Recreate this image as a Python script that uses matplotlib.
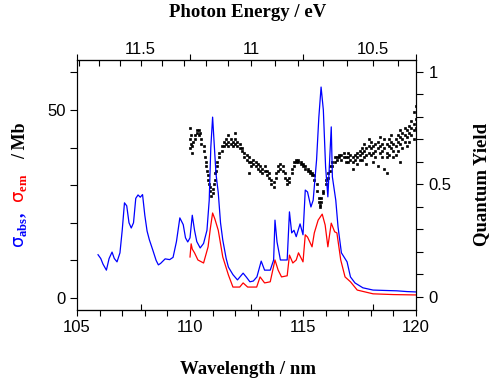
import numpy as np
import matplotlib
matplotlib.use("Agg")
import matplotlib.pyplot as plt
from matplotlib.ticker import MultipleLocator, FixedLocator, NullLocator, FormatStrFormatter

plt.rcParams["font.family"] = "Liberation Sans"
plt.rcParams["mathtext.fontset"] = "custom"
plt.rcParams["mathtext.rm"] = "Liberation Serif:bold"
plt.rcParams["mathtext.bf"] = "Liberation Serif:bold"
plt.rcParams["mathtext.it"] = "DejaVu Sans"

# absorption cross section (blue)
abs_wl = [105.93, 106.05, 106.15, 106.3, 106.42, 106.55, 106.65, 106.77, 106.9, 107.0,
          107.1, 107.2, 107.3, 107.4, 107.5, 107.6, 107.7, 107.8, 107.9, 108.0,
          108.1, 108.2, 108.35, 108.5, 108.6, 108.7, 108.9, 109.1, 109.25, 109.4,
          109.55, 109.7, 109.8, 109.9, 110.0, 110.1, 110.2, 110.3, 110.45, 110.6,
          110.75, 110.85, 110.92, 111.0, 111.08, 111.15, 111.25, 111.35, 111.45, 111.6,
          111.7, 111.9, 112.1, 112.35, 112.5, 112.65, 112.8, 112.96, 113.15, 113.3,
          113.55, 113.7, 113.76, 113.85, 114.0, 114.3, 114.4, 114.5, 114.6, 114.7,
          114.87, 115.0, 115.1, 115.2, 115.35, 115.45, 115.6, 115.7, 115.8, 115.9,
          116.0, 116.1, 116.25, 116.3, 116.45, 116.55, 116.7, 116.95, 117.1, 117.3,
          117.65, 118.1, 118.6, 119.15, 119.6, 120.0]
abs_sigma = [11.5, 10.5, 9.0, 7.4, 10.5, 12.2, 10.5, 9.6, 12.0, 18.0,
             25.3, 24.5, 20.0, 18.6, 20.0, 26.5, 27.4, 26.8, 27.5, 22.0,
             17.8, 15.5, 12.8, 10.0, 8.8, 9.2, 10.4, 10.2, 10.8, 15.0,
             21.3, 19.5, 16.0, 14.9, 16.0, 22.0, 18.0, 15.0, 13.3, 14.5,
             18.0, 26.0, 40.0, 48.1, 40.0, 33.0, 28.0, 20.0, 15.4, 10.5,
             8.2, 6.2, 4.8, 6.6, 5.5, 4.3, 4.5, 5.6, 9.8, 7.4,
             7.4, 10.1, 20.7, 14.9, 10.1, 10.1, 22.9, 17.3, 18.0, 16.3,
             19.7, 16.8, 28.7, 28.2, 24.2, 26.0, 36.7, 48.0, 56.1, 50.0,
             34.8, 26.9, 45.5, 32.2, 26.0, 18.9, 12.0, 9.6, 5.6, 4.0,
             2.7, 2.1, 2.0, 1.9, 1.7, 1.6]

# emission cross section (red)
em_wl = [110.0, 110.05, 110.1, 110.2, 110.35, 110.6, 110.8, 110.9, 111.0, 111.1,
         111.25, 111.45, 111.7, 111.9, 112.2, 112.35, 112.55, 112.95, 113.1, 113.3,
         113.55, 113.76, 113.9, 114.05, 114.3, 114.4, 114.55, 114.7, 114.8, 115.0,
         115.1, 115.2, 115.4, 115.5, 115.67, 115.85, 115.98, 116.1, 116.25, 116.4,
         116.5, 116.67, 116.86, 117.1, 117.4, 118.1, 119.0, 120.0]
em_sigma = [10.9, 14.4, 13.0, 12.0, 10.1, 9.3, 13.6, 18.5, 22.6, 21.0,
            18.0, 10.9, 6.1, 2.9, 2.9, 4.0, 2.9, 2.9, 5.6, 4.0,
            4.3, 10.1, 7.4, 5.6, 5.9, 11.4, 9.3, 10.1, 12.0, 9.6,
            16.8, 16.2, 13.6, 17.3, 20.7, 22.3, 19.4, 13.6, 19.9, 17.6,
            17.3, 10.1, 5.6, 4.3, 2.1, 1.1, 0.9, 0.8]

# quantum yield (black dots), read as (wavelength, yield) pairs
qy_wl = [110.0, 110.0, 110.0, 110.05, 110.05, 110.1, 110.1, 110.15, 110.2, 110.2,
         110.3, 110.3, 110.4, 110.4, 110.45, 110.5, 110.5, 110.6, 110.6, 110.65,
         110.7, 110.7, 110.75, 110.8, 110.8, 110.85, 110.9, 110.9, 110.95, 111.0,
         111.0, 111.05, 111.1, 111.1, 111.15, 111.2, 111.2, 111.3, 111.3, 111.4,
         111.4, 111.5, 111.5, 111.6, 111.6, 111.7, 111.7, 111.7, 111.8, 111.8,
         111.9, 111.9, 112.0, 112.0, 112.0, 112.1, 112.1, 112.2, 112.2, 112.3,
         112.3, 112.4, 112.4, 112.5, 112.5, 112.6, 112.6, 112.6, 112.7, 112.7,
         112.8, 112.8, 112.9, 112.9, 113.0, 113.0, 113.1, 113.1, 113.2, 113.2,
         113.3, 113.3, 113.4, 113.4, 113.5, 113.5, 113.6, 113.6, 113.7, 113.7,
         113.8, 113.8, 113.9, 113.9, 114.0, 114.0, 114.1, 114.1, 114.2, 114.2,
         114.3, 114.3, 114.4, 114.4, 114.5, 114.5, 114.6, 114.6, 114.7, 114.7,
         114.8, 114.8, 114.9, 114.9, 115.0, 115.0, 115.1, 115.1, 115.2, 115.2,
         115.3, 115.3, 115.4, 115.4, 115.5, 115.5, 115.6, 115.6, 115.7, 115.7,
         115.75, 115.75, 115.8, 115.8, 115.9, 115.9, 116.0, 116.0, 116.1, 116.1,
         116.2, 116.2, 116.3, 116.3, 116.4, 116.4, 116.5, 116.5, 116.6, 116.6,
         116.7, 116.7, 116.8, 116.8, 116.9, 116.9, 117.0, 117.0, 117.0, 117.1,
         117.1, 117.2, 117.2, 117.2, 117.3, 117.3, 117.4, 117.4, 117.4, 117.5,
         117.5, 117.5, 117.6, 117.6, 117.6, 117.7, 117.7, 117.7, 117.8, 117.8,
         117.8, 117.9, 117.9, 117.9, 118.0, 118.0, 118.0, 118.1, 118.1, 118.1,
         118.2, 118.2, 118.2, 118.3, 118.3, 118.3, 118.4, 118.4, 118.4, 118.5,
         118.5, 118.5, 118.6, 118.6, 118.6, 118.7, 118.7, 118.7, 118.7, 118.8,
         118.8, 118.8, 118.9, 118.9, 118.9, 119.0, 119.0, 119.0, 119.1, 119.1,
         119.1, 119.2, 119.2, 119.2, 119.3, 119.3, 119.3, 119.3, 119.4, 119.4,
         119.4, 119.5, 119.5, 119.5, 119.6, 119.6, 119.6, 119.7, 119.7, 119.7,
         119.8, 119.8, 119.8, 119.9, 119.9, 119.9, 119.9, 120.0, 120.0, 120.0]
qy = [0.75, 0.70, 0.66, 0.72, 0.68, 0.67, 0.64, 0.69, 0.70, 0.72,
      0.73, 0.74, 0.74, 0.72, 0.73, 0.70, 0.68, 0.65, 0.67, 0.62,
      0.60, 0.58, 0.56, 0.52, 0.54, 0.50, 0.47, 0.49, 0.45, 0.46,
      0.48, 0.50, 0.52, 0.55, 0.56, 0.58, 0.60, 0.62, 0.64, 0.65,
      0.67, 0.67, 0.69, 0.68, 0.70, 0.69, 0.67, 0.72, 0.68, 0.70,
      0.69, 0.67, 0.68, 0.70, 0.73, 0.67, 0.69, 0.66, 0.68, 0.65,
      0.66, 0.64, 0.62, 0.63, 0.61, 0.60, 0.62, 0.55, 0.60, 0.58,
      0.59, 0.61, 0.60, 0.58, 0.59, 0.57, 0.58, 0.56, 0.57, 0.55,
      0.58, 0.56, 0.56, 0.54, 0.55, 0.53, 0.52, 0.50, 0.51, 0.49,
      0.53, 0.55, 0.56, 0.58, 0.57, 0.59, 0.56, 0.58, 0.55, 0.53,
      0.52, 0.50, 0.51, 0.53, 0.55, 0.57, 0.58, 0.60, 0.60, 0.61,
      0.61, 0.60, 0.59, 0.60, 0.58, 0.59, 0.58, 0.57, 0.57, 0.56,
      0.56, 0.55, 0.55, 0.54, 0.54, 0.52, 0.50, 0.47, 0.44, 0.42,
      0.41, 0.40, 0.42, 0.44, 0.46, 0.47, 0.50, 0.52, 0.53, 0.55,
      0.56, 0.58, 0.58, 0.60, 0.60, 0.62, 0.62, 0.61, 0.63, 0.62,
      0.63, 0.61, 0.62, 0.64, 0.62, 0.60, 0.62, 0.60, 0.64, 0.61,
      0.63, 0.60, 0.62, 0.57, 0.61, 0.63, 0.62, 0.64, 0.59, 0.63,
      0.65, 0.61, 0.64, 0.66, 0.61, 0.65, 0.62, 0.68, 0.66, 0.63,
      0.59, 0.67, 0.64, 0.70, 0.66, 0.63, 0.69, 0.67, 0.64, 0.60,
      0.68, 0.65, 0.62, 0.66, 0.69, 0.58, 0.67, 0.64, 0.71, 0.68,
      0.65, 0.62, 0.66, 0.70, 0.57, 0.68, 0.64, 0.62, 0.55, 0.67,
      0.70, 0.63, 0.69, 0.66, 0.72, 0.68, 0.65, 0.62, 0.70, 0.67,
      0.63, 0.69, 0.72, 0.65, 0.71, 0.68, 0.74, 0.60, 0.70, 0.73,
      0.66, 0.72, 0.69, 0.75, 0.71, 0.74, 0.67, 0.73, 0.76, 0.69,
      0.75, 0.72, 0.78, 0.74, 0.77, 0.70, 0.82, 0.75, 0.79, 0.85]

energy_major = [11.5, 11.0, 10.5]
energy_minor = [11.8, 11.7, 11.6, 11.4, 11.3, 11.2, 11.1, 10.9, 10.8, 10.7, 10.6, 10.4]

HC = 1239.84  # eV nm

fig = plt.figure(figsize=(4.94, 3.82), dpi=100)
ax = fig.add_axes([0.1559, 0.1885, 0.6862, 0.6545])
ax2 = ax.twinx()

ax2.plot(qy_wl, qy, ls="none", marker="s", ms=2.0, color="black", mec="black", mew=0.5)
ax.plot(em_wl, em_sigma, color="red", lw=0.9)
ax.plot(abs_wl, abs_sigma, color="blue", lw=0.9)

ax.set_zorder(ax2.get_zorder() + 1)
ax.patch.set_visible(False)

ax.set_xlim(105, 120)
ax.set_ylim(-3.2, 63.3)
ax2.set_ylim(-0.058, 1.053)

tick_kw = dict(width=0.8, labelsize=12)
ax.xaxis.set_major_locator(MultipleLocator(5))
ax.xaxis.set_minor_locator(MultipleLocator(1))
ax.tick_params(axis="x", which="major", direction="out", length=4, top=True, pad=3, **tick_kw)
ax.tick_params(axis="x", which="minor", direction="out", length=4, top=False, width=0.8)

ax.yaxis.set_major_locator(FixedLocator([0, 50]))
ax.yaxis.set_minor_locator(MultipleLocator(10))
ax.tick_params(axis="y", which="major", direction="out", length=5, pad=3, **tick_kw)
ax.tick_params(axis="y", which="minor", direction="out", length=5, width=0.8)

ax2.yaxis.set_major_locator(FixedLocator([0, 0.5, 1]))
ax2.yaxis.set_minor_locator(MultipleLocator(0.1))
ax2.yaxis.set_major_formatter(FormatStrFormatter("%g"))
ax2.tick_params(axis="y", which="major", direction="out", length=5, pad=4, **tick_kw)
ax2.tick_params(axis="y", which="minor", direction="out", length=5, width=0.8)

for a in (ax, ax2):
    for s in a.spines.values():
        s.set_linewidth(0.8)

# photon energy scale on top
to_e = (lambda x: HC / x, lambda e: HC / e)
top = ax.secondary_xaxis("top", functions=to_e)
top.xaxis.set_major_locator(FixedLocator(energy_major))
top.xaxis.set_minor_locator(FixedLocator(energy_minor))
top.xaxis.set_major_formatter(FormatStrFormatter("%g"))
top.tick_params(which="major", direction="in", length=4, pad=2, **tick_kw)
top.tick_params(which="minor", direction="in", length=4, width=0.8)
top.spines["top"].set_linewidth(0.8)

# energy ticks mirrored on the bottom
bot = ax.secondary_xaxis("bottom", functions=to_e)
bot.xaxis.set_major_locator(FixedLocator(energy_major))
bot.xaxis.set_minor_locator(NullLocator())
bot.tick_params(which="major", direction="in", length=4, width=0.8, labelbottom=False)
bot.spines["bottom"].set_linewidth(0.8)

serif = "Liberation Serif"
fig.text(0.502, 0.968, "Photon Energy / eV", family=serif, weight="bold",
         fontsize=13.5, ha="center", va="center")
fig.text(0.502, 0.034, "Wavelength / nm", family=serif, weight="bold",
         fontsize=13.5, ha="center", va="center")
fig.text(0.974, 0.518, "Quantum Yield", family=serif, weight="bold",
         fontsize=13.5, ha="center", va="center", rotation=90)

# multicoloured left label
fig.text(0.0425, 0.351, r"$\sigma_{\mathbf{abs}}$,", family=serif, weight="bold",
         fontsize=13, color="blue", ha="center", va="bottom", rotation=90)
fig.text(0.0425, 0.468, r"$\sigma_{\mathbf{em}}$", family=serif, weight="bold",
         fontsize=13, color="red", ha="center", va="bottom", rotation=90)
fig.text(0.0425, 0.585, "/ Mb", family=serif, weight="bold",
         fontsize=13, color="black", ha="center", va="bottom", rotation=90)

fig.savefig("out.png", dpi=100)
